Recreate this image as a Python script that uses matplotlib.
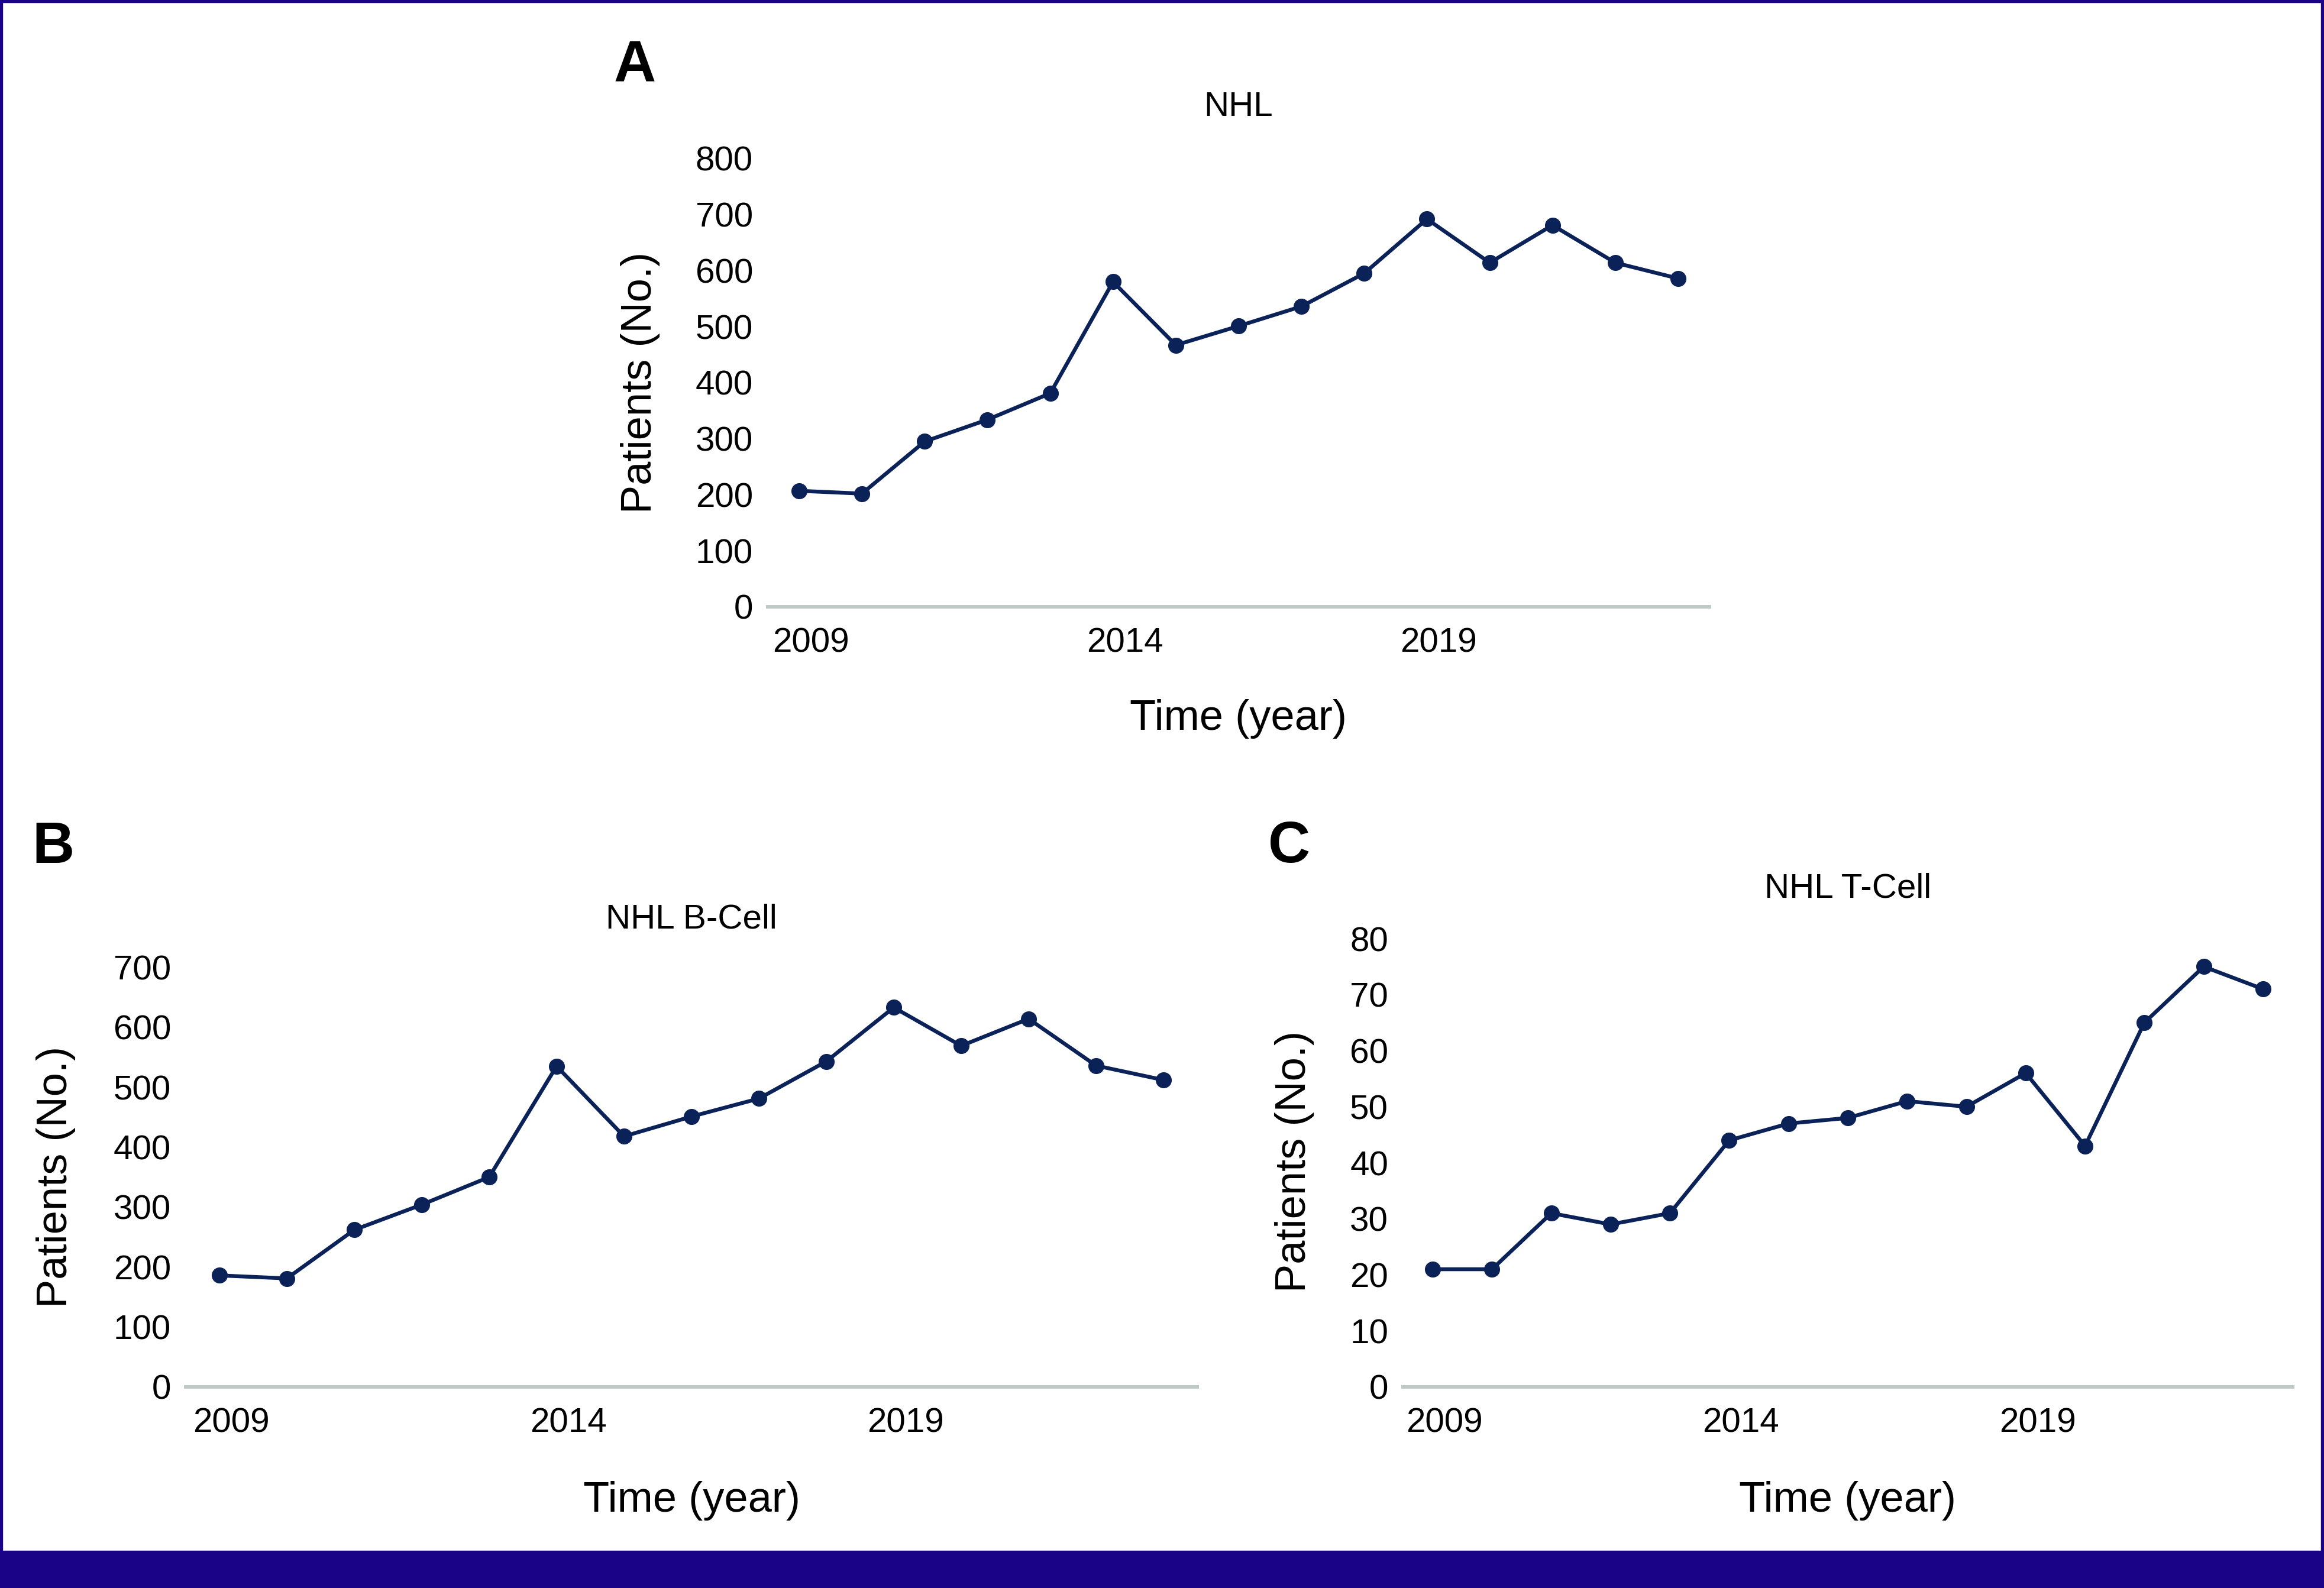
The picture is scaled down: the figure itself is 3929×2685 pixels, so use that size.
import matplotlib
matplotlib.use("Agg")
import matplotlib.pyplot as plt
from matplotlib import font_manager as fm
from matplotlib.transforms import ScaledTranslation
from matplotlib.patches import Rectangle

# ---------------- data ----------------
years = list(range(2009, 2024))
nhl_all = [207, 202, 295, 334, 381, 580, 467, 501, 536, 595, 692, 614, 681, 614, 586]
nhl_b = [186, 181, 262, 304, 350, 535, 418, 451, 481, 543, 633, 569, 614, 536, 512]
nhl_t = [21, 21, 31, 29, 31, 44, 47, 48, 51, 50, 56, 43, 65, 75, 71]
xtick_years = [2009, 2014, 2019]
titles = ["NHL", "NHL B-Cell", "NHL T-Cell"]
letters = ["A", "B", "C"]
ylabel = "Patients (No.)"
xlabel = "Time (year)"

# ---------------- style ----------------
W, H = 3929, 2685
DPI = 100
LINE = "#0b2259"
AXIS = "#bfc9c5"
FRAME = "#1b0388"

names = {f.name for f in fm.fontManager.ttflist}
base_font = "Liberation Sans" if "Liberation Sans" in names else "DejaVu Sans"
if "Liberation Sans Narrow" in names:
    cond_font, cond_size = "Liberation Sans Narrow", 63
else:
    cond_font, cond_size = base_font, 52

plt.rcParams["font.family"] = [base_font, "DejaVu Sans"]

fig = plt.figure(figsize=(W / DPI, H / DPI), dpi=DPI)
fig.patch.set_facecolor("white")


def fx(px):
    return px / W


def fy(py):
    return 1 - py / H


# axes boxes in pixels: left, right, bottom(y of 0), top(y of max)
panels = [
    dict(box=(1298, 2890, 1026, 268), data=nhl_all, ymax=800, ystep=100,
         title_xy=(2094, 196), xlab_xy=(2094, 1234), ylab_xy=(1083, 647),
         letter_xy=(1073, 137)),
    dict(box=(314, 2024, 2345, 1635.5), data=nhl_b, ymax=700, ystep=100,
         title_xy=(1169, 1569), xlab_xy=(1169, 2556), ylab_xy=(95, 1990),
         letter_xy=(90, 1459)),
    dict(box=(2372, 3876, 2345, 1587), data=nhl_t, ymax=80, ystep=10,
         title_xy=(3124, 1518), xlab_xy=(3124, 2556), ylab_xy=(2188, 1964),
         letter_xy=(2180, 1458)),
]

for p, title, letter in zip(panels, titles, letters):
    l, r, b, t = p["box"]
    ax = fig.add_axes([fx(l), fy(b), (r - l) / W, (b - t) / H])
    ax.plot(years, p["data"], color=LINE, lw=4.7, marker="o", ms=18.5,
            mfc=LINE, mec=LINE, clip_on=False, zorder=3)
    ax.set_xlim(2008.5, 2023.5)
    ax.set_ylim(0, p["ymax"])
    ax.set_yticks(list(range(0, p["ymax"] + 1, p["ystep"])))
    ax.set_xticks(xtick_years)
    ax.set_xticklabels([str(y) for y in xtick_years])
    for s in ["top", "right", "left"]:
        ax.spines[s].set_visible(False)
    ax.spines["bottom"].set_color(AXIS)
    ax.spines["bottom"].set_linewidth(4.3)
    ax.spines["bottom"].set_zorder(1)
    ax.tick_params(axis="both", length=0, labelsize=42, colors="black")
    ax.tick_params(axis="x", pad=24.5)
    ax.tick_params(axis="y", pad=18)
    off = ScaledTranslation(0.20, 0, fig.dpi_scale_trans)
    for lab in ax.get_xticklabels():
        lab.set_transform(lab.get_transform() + off)
    ax.set_facecolor("none")

    fig.text(fx(p["title_xy"][0]), fy(p["title_xy"][1]), title, ha="center",
             va="baseline", fontsize=42, color="black")
    fig.text(fx(p["xlab_xy"][0]), fy(p["xlab_xy"][1]), xlabel, ha="center",
             va="baseline", fontsize=cond_size, family=[cond_font, "DejaVu Sans"],
             color="black")
    fig.text(fx(p["ylab_xy"][0]), fy(p["ylab_xy"][1]), ylabel, ha="center",
             va="center", rotation=90, fontsize=cond_size,
             family=[cond_font, "DejaVu Sans"], color="black")
    fig.text(fx(p["letter_xy"][0]), fy(p["letter_xy"][1]), letter, ha="center",
             va="baseline", fontsize=71, fontweight="bold", color="black")

# frame and bottom bar
fig.patches.append(Rectangle((0, fy(4)), 1, 4 / H, transform=fig.transFigure,
                             color=FRAME, zorder=10))
fig.patches.append(Rectangle((0, 0), 4 / W, 1, transform=fig.transFigure,
                             color=FRAME, zorder=10))
fig.patches.append(Rectangle((1 - 5 / W, 0), 5 / W, 1, transform=fig.transFigure,
                             color=FRAME, zorder=10))
fig.patches.append(Rectangle((0, 0), 1, (H - 2622) / H, transform=fig.transFigure,
                             color=FRAME, zorder=10))

fig.savefig("out.png", dpi=DPI, facecolor="white")
